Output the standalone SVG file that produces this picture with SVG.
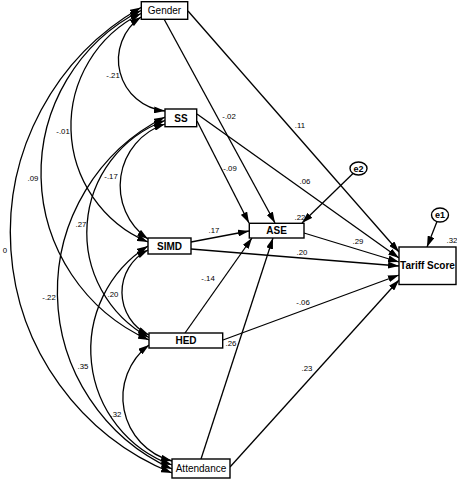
<svg xmlns="http://www.w3.org/2000/svg" width="457" height="480" viewBox="0 0 457 480">
<defs>
<marker id="ah" viewBox="0 0 11 7" refX="11" refY="3.5" markerWidth="11" markerHeight="7" markerUnits="userSpaceOnUse" orient="auto-start-reverse"><path d="M0,0 L11,3.5 L0,7 z" fill="#000"/></marker>
</defs>
<style>
.box{fill:#fff;stroke:#000;stroke-width:1.4}
.nl{font-family:"Liberation Sans",Arial,sans-serif;font-size:10px;text-anchor:middle;fill:#000}
.b{font-weight:bold}
.lb{font-family:"Liberation Sans",Arial,sans-serif;font-size:7.8px;text-anchor:middle;fill:#000}
.cv{fill:none;stroke:#000;stroke-width:1.3;marker-start:url(#ah);marker-end:url(#ah)}
.ar{fill:none;stroke:#000;stroke-width:1.3;marker-end:url(#ah)}
</style>
<rect width="457" height="480" fill="#fff"/>
<g id="connectors">
<path class="cv" d="M141,17 A51.6,51.6 0 0 0 165,111"/>
<path class="cv" d="M141,13.5 A125.6,125.6 0 0 0 148,242"/>
<path class="cv" d="M141,10.5 A182.6,182.6 0 0 0 149,340"/>
<path class="cv" d="M141,7.5 A259.4,259.4 0 0 0 172,473"/>
<path class="cv" d="M165,124 A64.9,64.9 0 0 0 148,239"/>
<path class="cv" d="M165,120.5 A119.5,119.5 0 0 0 149,337.5"/>
<path class="cv" d="M165,117 A195,195 0 0 0 172,469"/>
<path class="cv" d="M148,250 A47.3,47.3 0 0 0 149,335"/>
<path class="cv" d="M148,246 A122.5,122.5 0 0 0 172,465"/>
<path class="cv" d="M149,345 A65.7,65.7 0 0 0 172,461"/>
<line class="ar" x1="164" y1="19" x2="275" y2="223"/>
<line class="ar" x1="188" y1="11" x2="399" y2="252"/>
<line class="ar" x1="197" y1="121" x2="249" y2="223"/>
<line class="ar" x1="197" y1="114" x2="399" y2="258"/>
<line class="ar" x1="191" y1="242" x2="249" y2="231"/>
<line class="ar" x1="191" y1="249" x2="399" y2="266"/>
<line class="ar" x1="185" y1="333" x2="252" y2="238"/>
<line class="ar" x1="223" y1="340" x2="399" y2="275"/>
<line class="ar" x1="201" y1="459" x2="273" y2="238"/>
<line class="ar" x1="230" y1="467" x2="399" y2="280"/>
<line class="ar" x1="304" y1="233" x2="399" y2="262"/>
<line class="ar" x1="353" y1="173.5" x2="302" y2="223"/>
<line class="ar" x1="437" y1="221.5" x2="427" y2="247"/>
</g>
<g id="labels">
<text class="lb" x="113" y="78">-.21</text>
<text class="lb" x="63" y="134">-.01</text>
<text class="lb" x="33" y="181">.09</text>
<text class="lb" x="111" y="179">-.17</text>
<text class="lb" x="81" y="227">.27</text>
<text class="lb" x="5" y="253">0</text>
<text class="lb" x="49" y="300">-.22</text>
<text class="lb" x="113" y="297">.20</text>
<text class="lb" x="83" y="369">.35</text>
<text class="lb" x="116" y="417">.32</text>
<text class="lb" x="229" y="119">-.02</text>
<text class="lb" x="300" y="128">.11</text>
<text class="lb" x="230" y="171">-.09</text>
<text class="lb" x="305" y="184">.06</text>
<text class="lb" x="214" y="233">.17</text>
<text class="lb" x="300" y="220">.22</text>
<text class="lb" x="358" y="244">.29</text>
<text class="lb" x="302" y="255">.20</text>
<text class="lb" x="208" y="281">-.14</text>
<text class="lb" x="303" y="305">-.06</text>
<text class="lb" x="231" y="346">.26</text>
<text class="lb" x="307" y="371">.23</text>
<text class="lb" x="452" y="243">.32</text>
</g>
<g id="Gender"><rect class="box" x="141.3" y="1.7" width="46.4" height="17.6"/><text class="nl" x="164.5" y="14">Gender</text></g>
<g id="SS"><rect class="box" x="165" y="109" width="31.7" height="17.7"/><text class="nl b" x="181" y="121.5">SS</text></g>
<g id="SIMD"><rect class="box" x="148" y="238" width="43" height="16"/><text class="nl b" x="169.5" y="249.7">SIMD</text></g>
<g id="HED"><rect class="box" x="149" y="333" width="73.7" height="15"/><text class="nl b" x="186" y="344.3">HED</text></g>
<g id="Attendance"><rect class="box" x="172" y="459" width="58" height="19"/><text class="nl" x="201" y="472.3">Attendance</text></g>
<g id="ASE"><rect class="box" x="249.3" y="223.3" width="54.7" height="14.7"/><text class="nl b" x="276.6" y="234.3">ASE</text></g>
<g id="TariffScore"><rect class="box" x="399" y="247" width="57" height="37.5"/><text class="nl b" x="427.5" y="269">Tariff Score</text></g>
<g id="e2"><ellipse class="box" cx="358.5" cy="168.5" rx="8.5" ry="6.5"/><text class="nl b" x="358.5" y="171.8" style="font-size:9px">e2</text></g>
<g id="e1"><ellipse class="box" cx="440" cy="215" rx="8.5" ry="7"/><text class="nl b" x="440" y="218.3" style="font-size:9px">e1</text></g>
</svg>
